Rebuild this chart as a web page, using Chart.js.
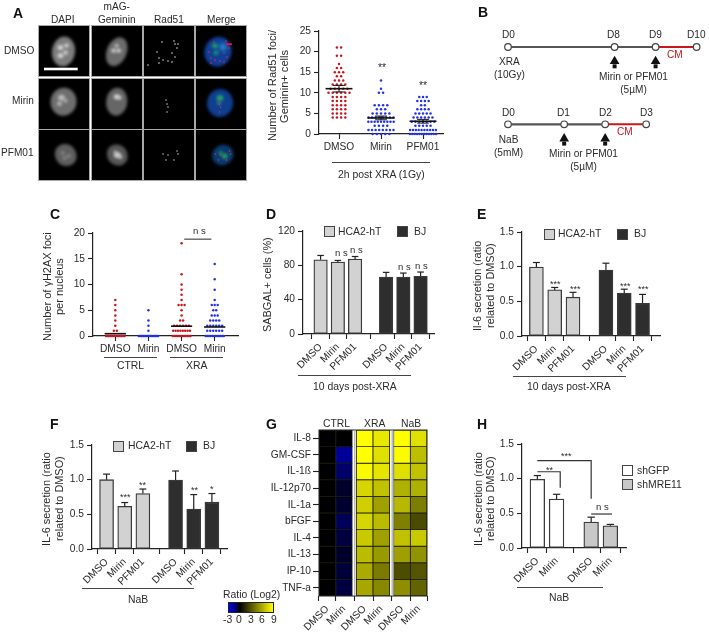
<!DOCTYPE html>
<html>
<head>
<meta charset="utf-8">
<style>
  html, body { margin: 0; background: #fff; }
  #fig { position: relative; width: 709px; height: 637px; overflow: hidden; font-family: "Liberation Sans", Arial, sans-serif; color: #2b2b2b; }
  #fig canvas { position: absolute; }
  .t { position: absolute; font-size: 10.4px; line-height: 12.5px; white-space: pre; text-align: center; }
  .letter { font-size: 14px; font-weight: bold; color: #111; }
  .rule { position: absolute; height: 1.2px; background: #444; }
  .swatch { position: absolute; box-sizing: border-box; width: 11px; height: 11px; border: 1.3px solid #444; }
</style>
</head>
<body>
<div id="fig"></div>
<script src="https://cdn.jsdelivr.net/npm/chart.js@4"></script>
<script>
// panel A
const rad51Cats = ['DMSO', 'Mirin', 'PFM01'];
const rad51Dmso = [21,21,19,19,17,16,16,15,15,15,14,14,13,13,13,12,12,12,12,11,11,11,11,11,10,10,10,10,10,10,9,9,9,9,8,8,8,8,7,7,7,7,6,6,6,6,5,5,5,5,4,4,4,4];
const rad51Mirin = [13,11,10,10,7,7,7,7,6,6,6,5,5,5,5,5,4,4,4,4,4,4,4,4,3,3,3,3,3,3,3,3,3,2,2,2,2,1,1,1,1,1,1,1,1,0,0,0,0,0];
const rad51Pfm = [9,9,9,8,8,8,8,7,7,6,6,6,6,5,5,5,5,5,4,4,4,4,4,4,3,3,3,3,3,3,3,2,2,2,2,2,1,1,1,1,1,1,1,1,1,1,0,0,0,0,0,0,0,0,0,0,0,0];
const rad51Means = [11, 3.9, 3.1];
const rad51Sem = [0.8, 0.45, 0.45];

// panel C
const h2axCats = ['DMSO', 'Mirin', 'DMSO', 'Mirin'];
const h2axCtrlDmso = [7,6,5,4,3,2,1,1,0,0,0,0,0,0,0,0,0,0,0,0,0,0];
const h2axCtrlMirin = [5,3,2,1,0,0,0,0,0,0,0,0,0,0,0,0,0,0,0,0];
const h2axXraDmso = [18,12,10,9,8,7,6,6,6,5,4,3,3,2,2,2,2,2,2,1,1,1,1,1,1,1,1,0,0,0,0,0,0,0,0,0,0,0,0];
const h2axXraMirin = [14,11,9,7,6,6,6,5,5,4,4,4,3,3,3,3,2,2,2,2,2,2,1,1,1,1,1,1,0,0,0,0,0,0,0,0,0,0,0,0];
const h2axMeans = [0.45, null, 1.9, 1.75];

// panels D, E, F, H
const barCats = ['DMSO', 'Mirin', 'PFM01', 'DMSO', 'Mirin', 'PFM01'];
const barSlots = [1, 2, 3, 4.8, 5.8, 6.8];
const sabgalVals = [86.5, 83.8, 87.3, 66.4, 66.4, 67.2];
const sabgalTops = [91.5, 85.7, 90.3, 71.8, 71, 72.2];
const il6XraVals = [0.995, 0.665, 0.56, 0.95, 0.62, 0.47];
const il6XraTops = [1.06, 0.70, 0.63, 1.05, 0.675, 0.60];
const il6NabVals = [1.0, 0.615, 0.80, 0.995, 0.575, 0.675];
const il6NabTops = [1.08, 0.67, 0.865, 1.125, 0.785, 0.80];
const mreCats = ['DMSO', 'Mirin', 'DMSO', 'Mirin'];
const mreSlots = [1, 2, 3.8, 4.8];
const mreVals = [0.99, 0.705, 0.375, 0.32];
const mreTops = [1.045, 0.775, 0.445, 0.34];

// panel G
const heatRows = ['IL-8', 'GM-CSF', 'IL-1ß', 'IL-12p70', 'IL-1a', 'bFGF', 'IL-4', 'IL-13', 'IP-10', 'TNF-a'];
const heatCols = ['DMSO', 'Mirin', 'DMSO', 'Mirin', 'DMSO', 'Mirin'];
const heatSlots = [0, 1, 2.24, 3.24, 4.48, 5.48];
const heatIL8 = [0, 0, 9, 8.2, 9, 7.9];
const heatGMCSF = [0, -1.8, 9, 7.9, 8.9, 6.7];
const heatIL1b = [0, -1.25, 8.8, 8.1, 7.9, 6.8];
const heatIL12 = [0, -0.5, 7.5, 6.8, 6.2, 6.2];
const heatIL1a = [0, -0.55, 7.3, 5.6, 6.5, 4.4];
const heatFGF = [0, -1.05, 7.5, 6.6, 4.5, 2.6];
const heatIL4 = [0, -0.75, 7.1, 5.6, 6.8, 7.1];
const heatIL13 = [0, -0.5, 6.6, 5.4, 5.6, 5.2];
const heatIP10 = [0, -0.7, 6.0, 4.3, 2.7, 3.0];
const heatTNF = [0, -0.75, 5.9, 4.8, 5.0, 3.5];
const heatTable = [heatIL8, heatGMCSF, heatIL1b, heatIL12, heatIL1a, heatFGF, heatIL4, heatIL13, heatIP10, heatTNF];

// panel B, schematic day positions
const xraDays = [0, 2.6, 3.6, 4.6];
const xraTreat = [2.6, 3.6];
const nabDays = [0, 1.37, 2.37, 3.37];
const nabTreat = [1.37, 2.37];

const INK = '#222';
const RED = '#c8161d';
const BLUE = '#2233e6';
const LIGHT = '#d2d2d2';
const DARK = '#2e2e2e';
const TITLE = 10.9;
const SMALL = 10.1;

Chart.defaults.font.family = '"Liberation Sans", Arial, sans-serif';
Chart.defaults.font.size = 10.2;
Chart.defaults.color = '#2b2b2b';
Chart.defaults.animation = false;
Chart.defaults.layout.autoPadding = false;

const fig = document.getElementById('fig');

function label(text, x, y, opts = {}) {
  const el = document.createElement('div');
  el.className = 't ' + (opts.cls || '');
  el.textContent = text;
  if (opts.size) el.style.fontSize = opts.size + 'px';
  if (opts.color) el.style.color = opts.color;
  fig.appendChild(el);
  if (opts.vertical) {
    // whole-pixel box, rotated text gets muddy on half pixels
    el.style.writingMode = 'vertical-rl';
    el.style.transform = 'rotate(180deg)';
    const w = Math.ceil(el.offsetWidth / 2) * 2;
    const h = Math.ceil(el.offsetHeight / 2) * 2;
    el.style.width = w + 'px';
    el.style.height = h + 'px';
    el.style.left = Math.round(x - w / 2) + 'px';
    el.style.top = Math.round(y - h / 2) + 'px';
    return;
  }
  const w = el.offsetWidth;
  const left = opts.anchor === 'left' ? x : opts.anchor === 'right' ? x - w : x - w / 2;
  el.style.left = Math.round(left) + 'px';
  el.style.top = Math.round(y - el.offsetHeight / 2) + 'px';
}

function rule(x1, x2, y) {
  const el = document.createElement('div');
  el.className = 'rule';
  el.style.left = x1 + 'px';
  el.style.width = (x2 - x1) + 'px';
  el.style.top = y + 'px';
  fig.appendChild(el);
}

function swatch(x, y, color) {
  const el = document.createElement('div');
  el.className = 'swatch';
  el.style.left = x + 'px';
  el.style.top = y + 'px';
  el.style.background = color;
  fig.appendChild(el);
}

// canvas placed so the plot area lands exactly on the given page rectangle
function placeChart(plot, gut, config) {
  const c = document.createElement('canvas');
  c.width = plot.w + gut.l + gut.r;
  c.height = plot.h + gut.t + gut.b;
  c.style.left = (plot.x - gut.l) + 'px';
  c.style.top = (plot.y - gut.t) + 'px';
  c.style.width = c.width + 'px';
  c.style.height = c.height + 'px';
  fig.appendChild(c);
  config.options = Object.assign({ responsive: false, devicePixelRatio: 1, layout: { autoPadding: false, padding: { top: gut.t, right: gut.r, left: 0, bottom: 0 } }, plugins: { legend: { display: false }, tooltip: { enabled: false } } }, config.options);
  return new Chart(c, config);
}

const GUT = { l: 40, r: 12, t: 8, b: 50 };

function xScale(plot, firstX, unit, slot0, slots, cats, rotated) {
  return {
    type: 'linear',
    offset: false,
    min: slot0 + (plot.x - firstX) / unit,
    max: slot0 + (plot.x + plot.w - firstX) / unit,
    afterBuildTicks: s => { s.ticks = slots.map(v => ({ value: v })); },
    afterFit: s => { s.height = GUT.b; s.paddingLeft = 0; s.paddingRight = 0; },
    border: { color: INK, width: 1.2 },
    grid: { drawOnChartArea: false, tickColor: INK, tickLength: 5, tickWidth: 1.1 },
    ticks: {
      autoSkip: false, padding: 2,
      minRotation: rotated ? 45 : 0, maxRotation: rotated ? 45 : 0,
      callback: v => cats[slots.indexOf(v)],
    },
  };
}

function yScale(ymax, step) {
  return {
    min: 0, max: ymax,
    afterFit: s => { s.width = GUT.l; s.paddingTop = 0; s.paddingBottom = 0; },
    border: { color: INK, width: 1.2 },
    grid: { drawOnChartArea: false, tickColor: INK, tickLength: 5, tickWidth: 1.1 },
    ticks: { stepSize: step, padding: 3, callback: v => step < 1 ? v.toFixed(1) : v },
  };
}

function seg(points, color = INK, width = 1.2) {
  return { type: 'line', data: points, borderColor: color, borderWidth: width, pointRadius: 0, fill: false, clip: false };
}

// equal values spread sideways, like a GraphPad dot plot
function swarm(values, center, step, maxWidth) {
  const groups = {};
  values.forEach(v => { (groups[v] = groups[v] || []).push(v); });
  const pts = [];
  Object.keys(groups).forEach(k => {
    const n = groups[k].length;
    const s = Math.min(step, maxWidth / n);
    groups[k].forEach((v, i) => pts.push({ x: center + (i - (n - 1) / 2) * s, y: v }));
  });
  return pts;
}

function dots(points, color) {
  return { type: 'scatter', data: points, backgroundColor: color, borderWidth: 0, pointRadius: 1.25, clip: false };
}

function barChart(plot, firstX, unit, slots, cats, vals, tops, colors, ymax, step, thick, extra = []) {
  const errs = [];
  slots.forEach((s, i) => {
    errs.push(seg([{ x: s, y: vals[i] }, { x: s, y: tops[i] }], '#222', 1.2));
    errs.push(seg([{ x: s - 0.19, y: tops[i] }, { x: s + 0.19, y: tops[i] }], '#222', 1.2));
  });
  placeChart(plot, GUT, {
    type: 'bar',
    data: {
      datasets: [...extra, ...errs, {
        data: slots.map((s, i) => ({ x: s, y: vals[i] })),
        backgroundColor: colors, borderColor: '#3a3a3a', borderWidth: 1.3, borderSkipped: false,
        barThickness: thick, clip: false,
      }],
    },
    options: { scales: { x: xScale(plot, firstX, unit, slots[0], slots, cats, true), y: yScale(ymax, step) } },
  });
}

/* ---------- panel A images ---------- */
function drawMicrographs() {
  const c = document.createElement('canvas');
  c.width = 250; c.height = 185;
  c.style.left = '0px'; c.style.top = '0px';
  fig.appendChild(c);
  const g = c.getContext('2d');
  const colX = [39, 92, 144, 196];
  const rowY = [26, 79, 130];
  const T = 50;
  rowY.forEach(y => colX.forEach(x => {
    g.fillStyle = '#000';
    g.fillRect(x, y, T, T);
    g.strokeStyle = '#a8a8a8';
    g.lineWidth = 1;
    g.strokeRect(x - 0.5, y - 0.5, T + 1, T + 1);
  }));
  function blob(cx, cy, rx, ry, rot, color, blur) {
    g.save();
    g.filter = `blur(${blur}px)`;
    g.fillStyle = color;
    g.beginPath();
    g.ellipse(cx, cy, rx, ry, rot, 0, Math.PI * 2);
    g.fill();
    g.restore();
  }
  function nucleus(cx, cy, rx, ry, rot, base, spots, spotColor) {
    blob(cx, cy, rx, ry, rot, base, 1.5);
    spots.forEach(s => blob(cx + s[0], cy + s[1], s[2], s[2] * 0.85, 0, spotColor, 1.6));
  }
  function foci(list, color, r) {
    g.fillStyle = color;
    list.forEach(p => { g.beginPath(); g.arc(p[0], p[1], r, 0, Math.PI * 2); g.fill(); });
  }
  // DAPI
  nucleus(63.5, 51.5, 11.5, 15, 0.15, '#7d7d7d', [[-3, -4, 3], [3, -6, 2.5], [-3, 4, 3], [2, 1, 2.5]], '#d4d4d4');
  nucleus(63.5, 101.7, 13, 14, 0.1, '#6e6e6e', [[-2, -4, 3.5], [-4, 2, 2.5], [2, -1, 2]], '#bdbdbd');
  nucleus(65.7, 155, 10.5, 11.5, -0.7, '#5e5e5e', [[-3, -2, 2], [3, 1, 2], [-1, 3, 2]], '#8e8e8e');
  // mAG-Geminin
  nucleus(116.7, 51.7, 10, 15, 0.4, '#6b6b6b', [[0, -6, 2], [-3, -1, 2.5], [2, -1, 2.5]], '#d0d0d0');
  nucleus(116.7, 101.7, 10.5, 14, 0.1, '#666', [[0, -5, 3], [3, -4, 2]], '#d4d4d4');
  nucleus(117.3, 155, 10, 11, -0.7, '#575757', [[0, 0, 3.5], [3, 2, 2], [-2, -3, 1.6]], '#cfcfcf');
  // Rad51
  const fociDmso = [[162, 42], [174, 41], [175, 44], [178, 44], [157, 52], [159, 58], [163, 60], [168, 61], [172, 62], [175, 57], [172, 53], [177, 48], [159, 63], [148, 65]];
  const fociMirin = [[166, 100], [167, 104], [168, 107], [167, 112]];
  const fociPfm = [[163, 154], [168, 155], [178, 154], [177, 151], [166, 160], [174, 160]];
  foci(fociDmso, '#eee', 0.75);
  foci(fociMirin, '#ddd', 0.7);
  foci(fociPfm, '#ddd', 0.7);
  // Merge
  nucleus(218, 51.7, 13.5, 15, 0.3, '#0f3f96', [[-3, -6, 3], [-2, 1, 2.5]], '#1f9f6a');
  blob(223, 47, 3.5, 3.5, 0, '#2a8fd0', 2);
  nucleus(220, 103, 13, 14, 0.1, '#0f3f8f', [[0, -5, 3.5], [-1, 0, 2]], '#22a06e');
  nucleus(222.7, 155, 11, 10, -0.5, '#0b3a70', [[2, 1, 3], [-2, -2, 2]], '#21a563');
  const shift = 52;
  foci(fociDmso.slice(0, 13).map(p => [p[0] + shift, p[1]]), '#e0205a', 0.85);
  g.fillStyle = '#f01040';
  g.fillRect(226, 43.5, 6, 1.6);
  foci(fociMirin.map(p => [p[0] + 52.5, p[1]]), '#d8305a', 0.75);
  foci(fociPfm.map(p => [p[0] + 52.5, p[1]]), '#e0305a', 0.75);
  // scale bar
  g.fillStyle = '#fff';
  g.fillRect(44, 67.7, 33.7, 2.6);
}
drawMicrographs();

label('DAPI', 63.3, 20, { size: SMALL });
label('mAG-\nGeminin', 116.7, 13.5, { size: SMALL });
label('Rad51', 169, 20, { size: SMALL });
label('Merge', 221.7, 20, { size: SMALL });
label('DMSO', 34, 51, { anchor: 'right', size: SMALL });
label('Mirin', 34, 101.7, { anchor: 'right', size: SMALL });
label('PFM01', 34, 153.3, { anchor: 'right', size: SMALL });

/* ---------- panel A dots ---------- */
{
  const plot = { x: 319, y: 31.3, w: 124, h: 103.7 };
  const means = [];
  rad51Means.forEach((m, i) => {
    const x = i + 1;
    means.push(seg([{ x: x - 0.32, y: m }, { x: x + 0.32, y: m }], '#111', 1.6));
    means.push(seg([{ x, y: m - rad51Sem[i] }, { x, y: m + rad51Sem[i] }], '#111', 1));
    means.push(seg([{ x: x - 0.14, y: m + rad51Sem[i] }, { x: x + 0.14, y: m + rad51Sem[i] }], '#111', 1));
    means.push(seg([{ x: x - 0.14, y: m - rad51Sem[i] }, { x: x + 0.14, y: m - rad51Sem[i] }], '#111', 1));
  });
  placeChart(plot, GUT, {
    type: 'scatter',
    data: { datasets: [...means,
      dots(swarm(rad51Dmso, 1, 0.1, 0.62), RED),
      dots(swarm(rad51Mirin, 2, 0.1, 0.68), BLUE),
      dots(swarm(rad51Pfm, 3, 0.09, 0.68), BLUE)] },
    options: { scales: { x: xScale(plot, 339, 42, 1, [1, 2, 3], rad51Cats, false), y: yScale(25, 5) } },
  });
  label('Number of Rad51 foci/\nGeminin+ cells', 279, 86, { vertical: true, size: 11.1 });
  label('**', 381.7, 68);
  label('**', 423.3, 86);
  rule(331.7, 430, 161.5);
  label('2h post XRA (1Gy)', 381.7, 175);
}

/* ---------- panel B timelines ---------- */
{
  const plot = { x: 490, y: 30, w: 219, h: 150 };
  const row = (days, r) => days.map(d => ({ x: d, y: r }));
  const timeline = (days, r) => ([
    { type: 'scatter', data: row(days, r), backgroundColor: '#fff', borderColor: '#444', borderWidth: 1.2, pointRadius: 3.3, clip: false },
    seg(row(days.slice(2), r), RED, 2),
    seg(row(days.slice(0, 3), r), '#555', 2.2),
  ]);
  const arrows = (treat, r) => ([
    { type: 'scatter', data: row(treat, r + 0.185), pointStyle: 'triangle', pointRadius: 5.6, backgroundColor: '#111', borderWidth: 0, clip: false },
    { type: 'scatter', data: row(treat, r + 0.25), pointStyle: 'rect', pointRadius: 2.8, backgroundColor: '#111', borderWidth: 0, clip: false },
  ]);
  placeChart(plot, { l: 0, r: 0, t: 0, b: 0 }, {
    type: 'scatter',
    data: { datasets: [...timeline(xraDays, 0), ...timeline(nabDays, 1), ...arrows(xraTreat, 0), ...arrows(nabTreat, 1)] },
    options: {
      layout: { autoPadding: false, padding: 0 },
      plugins: { legend: { display: false }, tooltip: { enabled: false } },
      scales: {
        x: { display: false, min: -18 / 41, max: 201 / 41 },
        y: { display: false, reverse: true, min: -17 / 77.3, max: 133 / 77.3 },
      },
    },
  });
  [['D0', 508.3], ['D8', 613.3], ['D9', 655], ['D10', 696.7]].forEach(d => label(d[0], d[1], 35.3, { size: SMALL }));
  [['D0', 508.3], ['D1', 563.3], ['D2', 605.7], ['D3', 646]].forEach(d => label(d[0], d[1], 113.3, { size: SMALL }));
  label('XRA\n(10Gy)', 509, 68.5, { size: SMALL });
  label('CM', 675, 55.3, { color: RED, size: SMALL });
  label('Mirin or PFM01\n(5µM)', 633, 83, { size: SMALL });
  label('NaB\n(5mM)', 508.3, 146, { size: SMALL });
  label('CM', 625.3, 132.7, { color: RED, size: SMALL });
  label('Mirin or PFM01\n(5µM)', 583, 160.4, { size: SMALL });
}

/* ---------- panel C ---------- */
{
  const plot = { x: 93.3, y: 232.7, w: 145.7, h: 103.3 };
  const ms = [];
  h2axMeans.forEach((m, i) => {
    if (m !== null) ms.push(seg([{ x: i + 0.68, y: m }, { x: i + 1.32, y: m }], '#111', 1.6));
  });
  placeChart(plot, GUT, {
    type: 'scatter',
    data: { datasets: [...ms,
      seg([{ x: 3.08, y: 18.8 }, { x: 3.9, y: 18.8 }], '#555', 1.3),
      dots(swarm(h2axCtrlDmso, 1, 0.09, 0.6), RED),
      dots(swarm(h2axCtrlMirin, 2, 0.09, 0.62), BLUE),
      dots(swarm(h2axXraDmso, 3, 0.09, 0.58), RED),
      dots(swarm(h2axXraMirin, 4, 0.09, 0.6), BLUE)] },
    options: { scales: { x: xScale(plot, 115.7, 33.3, 1, [1, 2, 3, 4], h2axCats, false), y: yScale(20, 5) } },
  });
  label('Number of γH2AX foci\nper nucleus', 54, 287, { vertical: true, size: 11 });
  label('n s', 199, 231.7, { size: 9.5 });
  rule(104, 157, 357.2);
  rule(170, 223, 357.2);
  label('CTRL', 130.7, 366);
  label('XRA', 196.7, 366);
}

/* ---------- panel D ---------- */
{
  const colors = [LIGHT, LIGHT, LIGHT, DARK, DARK, DARK];
  barChart({ x: 303.3, y: 231, w: 131.7, h: 103.7 }, 321, 17.33, barSlots, barCats, sabgalVals, sabgalTops, colors, 120, 40, 13.5);
  label('SABGAL+ cells (%)', 268.3, 284.7, { vertical: true, size: TITLE });
  swatch(324, 226, LIGHT); label('HCA2-hT', 338.3, 232, { anchor: 'left' });
  swatch(397.3, 226, DARK); label('BJ', 414, 232, { anchor: 'left' });
  label('n s', 341, 253.7, { size: 9.5 });
  label('n s', 356.7, 250, { size: 9.5 });
  label('n s', 404.3, 267.7, { size: 9.5 });
  label('n s', 421.7, 266.7, { size: 9.5 });
  rule(298, 410.7, 375);
  label('10 days post-XRA', 355, 387.3);
}

/* ---------- panel E ---------- */
{
  const colors = [LIGHT, LIGHT, LIGHT, DARK, DARK, DARK];
  barChart({ x: 522.3, y: 232, w: 138, h: 104 }, 536.7, 18.3, barSlots, barCats, il6XraVals, il6XraTops, colors, 1.5, 0.5, 14);
  label('Il-6 secretion (ratio\nrelated to DMSO)', 483.6, 286, { vertical: true, size: TITLE });
  swatch(543.5, 229, LIGHT); label('HCA2-hT', 558.3, 234.3, { anchor: 'left' });
  swatch(617, 229, DARK); label('BJ', 634, 234.3, { anchor: 'left' });
  label('***', 555.3, 284, { size: 9 });
  label('***', 575.7, 289.7, { size: 9 });
  label('***', 625, 286.4, { size: 9 });
  label('***', 643.3, 289.7, { size: 9 });
  rule(513.3, 625.7, 376.3);
  label('10 days post-XRA', 569.3, 387.7);
}

/* ---------- panel F ---------- */
{
  const colors = [LIGHT, LIGHT, LIGHT, DARK, DARK, DARK];
  barChart({ x: 91.7, y: 445, w: 135.3, h: 104 }, 106.3, 18.2, barSlots, barCats, il6NabVals, il6NabTops, colors, 1.5, 0.5, 14);
  label('IL-6 secretion (ratio\nrelated to DMSO)', 53, 498.7, { vertical: true, size: TITLE });
  swatch(112.5, 440.7, LIGHT); label('HCA2-hT', 127.7, 446.3, { anchor: 'left' });
  swatch(186.3, 440.7, DARK); label('BJ', 203, 446.3, { anchor: 'left' });
  label('***', 125, 497.7, { size: 9 });
  label('**', 142.7, 485.4, { size: 9 });
  label('**', 194, 490.7, { size: 9 });
  label('*', 212.3, 489, { size: 9 });
  rule(82, 194.3, 588);
  label('NaB', 137.7, 600);
}

/* ---------- panel G ---------- */
function heatColor(v) {
  if (v < 0) return `rgb(0,0,${Math.round(-v / 3 * 255)})`;
  const c = Math.round(v / 9 * 255);
  return `rgb(${c},${c},0)`;
}
{
  const plot = { x: 319.3, y: 430, w: 108, h: 166 };
  const gut = { l: 50, r: 6, t: 2, b: 40 };
  const yTicks = heatRows.map((_, i) => i + 0.5);
  const frame = {
    id: 'frame',
    afterDatasetsDraw(chart) {
      const { ctx, chartArea: a, scales: { x } } = chart;
      ctx.save();
      ctx.strokeStyle = '#222';
      ctx.lineWidth = 1;
      ctx.strokeRect(a.left, a.top, a.width, a.height);
      ctx.strokeStyle = '#999';
      [1.62, 3.86].forEach(v => {
        const px = x.getPixelForValue(v);
        ctx.beginPath(); ctx.moveTo(px + 0.5, a.top); ctx.lineTo(px + 0.5, a.bottom); ctx.stroke();
      });
      ctx.restore();
    },
  };
  placeChart(plot, gut, {
    type: 'bar',
    plugins: [frame],
    data: {
      datasets: heatTable.map((row, r) => ({
        data: row.map((v, i) => ({ x: heatSlots[i], y: [r, r + 1] })),
        backgroundColor: row.map(heatColor),
        borderColor: '#1c1c08', borderWidth: 0.8, borderSkipped: false,
        barThickness: 16.7, grouped: false,
      })),
    },
    options: {
      scales: {
        x: {
          type: 'linear', offset: false, min: -0.5, max: 5.98,
          afterBuildTicks: s => { s.ticks = heatSlots.map(v => ({ value: v })); },
          afterFit: s => { s.height = gut.b; s.paddingLeft = 0; s.paddingRight = 0; },
          border: { display: false },
          grid: { drawOnChartArea: false, tickColor: INK, tickLength: 5, tickWidth: 1.1 },
          ticks: { autoSkip: false, padding: 2, minRotation: 45, maxRotation: 45, callback: v => heatCols[heatSlots.indexOf(v)] },
        },
        y: {
          min: 0, max: 10, reverse: true,
          afterBuildTicks: s => { s.ticks = yTicks.map(v => ({ value: v })); },
          afterFit: s => { s.width = gut.l; s.paddingTop = 0; s.paddingBottom = 0; },
          border: { display: false },
          grid: { drawOnChartArea: false, tickColor: INK, tickLength: 6, tickWidth: 1.1 },
          ticks: { autoSkip: false, padding: 2, callback: v => heatRows[yTicks.indexOf(v)] },
        },
      },
    },
  });
  label('CTRL', 336.7, 424);
  label('XRA', 374.7, 424);
  label('NaB', 411.3, 424);
  // colour key
  const key = document.createElement('div');
  key.style.cssText = 'position:absolute;left:228px;top:601.5px;width:46px;height:11px;box-sizing:border-box;border:1px solid #222;background:linear-gradient(to right,#0000ff 0%,#000 25%,#ffff00 100%)';
  fig.appendChild(key);
  label('Ratio (Log2)', 251.7, 595);
  [['-3', 227.7], ['0', 239], ['3', 251], ['6', 262.3], ['9', 274]].forEach(k => label(k[0], k[1], 620));
}

/* ---------- panel H ---------- */
{
  const colors = ['#fff', '#fff', '#c8c8c8', '#c8c8c8'];
  const brackets = [
    seg([{ x: 1, y: 1.26 }, { x: 3.8, y: 1.26 }, { x: 3.8, y: 0.71 }], '#333', 1.2),
    seg([{ x: 1, y: 1.10 }, { x: 2.19, y: 1.10 }, { x: 2.19, y: 0.87 }], '#333', 1.2),
    seg([{ x: 3.8, y: 0.49 }, { x: 4.88, y: 0.49 }], '#333', 1.2),
  ];
  barChart({ x: 522.3, y: 444, w: 104.4, h: 104.3 }, 537.7, 19.3, mreSlots, mreCats, mreVals, mreTops, colors, 1.5, 0.5, 14.7, brackets);
  label('IL-6 secretion (ratio\nrelated to DMSO)', 484.5, 498.7, { vertical: true, size: TITLE });
  swatch(621.7, 465, '#fff'); label('shGFP', 636.7, 471, { anchor: 'left' });
  swatch(621.7, 479.3, '#c8c8c8'); label('shMRE11', 636.7, 485, { anchor: 'left' });
  label('***', 566, 456.4, { size: 9 });
  label('**', 549.3, 470.4, { size: 9 });
  label('n s', 602.3, 507.7, { size: 9.5 });
  rule(516.7, 603.3, 587.3);
  label('NaB', 559.3, 598.7);
}

/* panel letters */
[['A', 18, 13], ['B', 483, 12.5], ['C', 55, 214], ['D', 271, 214], ['E', 481, 214], ['F', 54.5, 424], ['G', 271, 424], ['H', 481.5, 424]]
  .forEach(l => label(l[0], l[1], l[2], { cls: 'letter' }));
</script>
</body>
</html>
